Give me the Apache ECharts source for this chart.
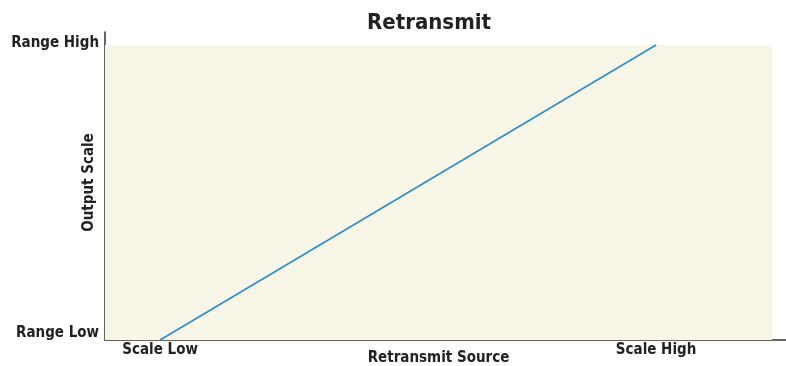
<!DOCTYPE html>
<html>
<head>
<meta charset="utf-8">
<script src="https://cdn.jsdelivr.net/npm/echarts@6/dist/echarts.min.js"></script>
<style>
html, body { margin: 0; padding: 0; background: #fff; }
#chart { width: 786px; height: 366px; }
</style>
</head>
<body>
<div id="chart"></div>
<script>
// Retransmit transfer curve: source scale mapped linearly onto the output range
const sourcePoints = [0, 1];           // Scale Low -> Scale High
const outputPoints = [0, 1];           // Range Low -> Range High
const xTickLabels = ['Scale Low', 'Scale High'];
const yTickLabels = ['Range Low', 'Range High'];
const shadedRegionX = [-0.111, 1.234];
const shadedRegionY = [0, 1];

const FONT = '"DejaVu Sans Condensed", "Liberation Sans Narrow", Arial, sans-serif';
const INK = '#222222';
const LABEL_SIZE = 15;

const chart = echarts.init(document.getElementById('chart'), null, { renderer: 'canvas' });

chart.setOption({
  animation: false,
  backgroundColor: '#ffffff',
  title: {
    text: 'Retransmit',
    left: 424,
    textAlign: 'center',
    top: 7,
    textStyle: { fontFamily: FONT, fontWeight: 'bold', fontSize: 22, color: INK }
  },
  grid: { left: 105, right: 0, top: 32, bottom: 26, outerBoundsMode: 'none', containLabel: false },
  xAxis: {
    type: 'value',
    min: -0.111,
    max: 1.262,
    splitLine: { show: false },
    axisLine: { show: true, onZero: false, lineStyle: { color: '#333', width: 1.5 } },
    axisTick: { show: false },
    axisLabel: {
      customValues: sourcePoints,
      formatter: v => xTickLabels[sourcePoints.indexOf(v)],
      fontFamily: FONT, fontWeight: 'bold', fontSize: LABEL_SIZE, color: INK, margin: 3
    },
    name: 'Retransmit Source',
    nameLocation: 'middle',
    nameMoveOverlap: false,
    nameGap: 11,
    nameTextStyle: { fontFamily: FONT, fontWeight: 'bold', fontSize: LABEL_SIZE, color: INK, padding: [0, 14, 0, 0] }
  },
  yAxis: {
    type: 'value',
    min: 0,
    max: 1.044,
    splitLine: { show: false },
    axisLine: { show: true, onZero: false, lineStyle: { color: '#333', width: 1.5 } },
    axisTick: { show: false },
    axisLabel: {
      customValues: outputPoints,
      formatter: v => v === 0 ? '{lo|' + yTickLabels[0] + '}' : '{hi|' + yTickLabels[1] + '}',
      fontFamily: FONT, fontWeight: 'bold', fontSize: LABEL_SIZE, color: INK, margin: 6,
      rich: {
        lo: { fontFamily: FONT, fontWeight: 'bold', fontSize: LABEL_SIZE, color: INK, padding: [0, 0, 14, 0] },
        hi: { fontFamily: FONT, fontWeight: 'bold', fontSize: LABEL_SIZE, color: INK, padding: [0, 0, 4, 0] }
      }
    },
    name: 'Output Scale',
    nameLocation: 'middle',
    nameMoveOverlap: false,
    nameGap: 8,
    nameRotate: 90,
    nameTextStyle: { fontFamily: FONT, fontWeight: 'bold', fontSize: LABEL_SIZE, color: INK, padding: [0, 0, 0, 7] }
  },
  series: [{
    type: 'line',
    data: sourcePoints.map((x, i) => [x, outputPoints[i]]),
    showSymbol: false,
    lineStyle: { color: '#2a8bd0', width: 1.5 },
    markArea: {
      silent: true,
      itemStyle: { color: '#f8f6e6' },
      data: [[
        { coord: [shadedRegionX[0], shadedRegionY[0]] },
        { coord: [shadedRegionX[1], shadedRegionY[1]] }
      ]]
    },
    z: 3
  }]
});
</script>
</body>
</html>
